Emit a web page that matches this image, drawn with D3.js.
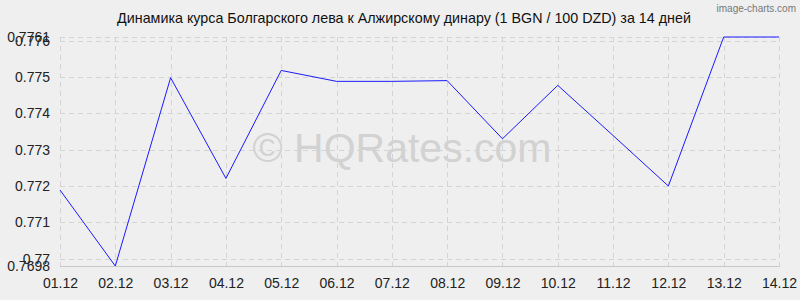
<!DOCTYPE html>
<html>
<head>
<meta charset="utf-8">
<script src="https://cdn.jsdelivr.net/npm/d3@7"></script>
<style>
  body { margin: 0; background: #efefef; }
  svg { display: block; font-family: "Liberation Sans", Arial, sans-serif; }
</style>
</head>
<body>
<div id="chart"></div>
<script>
const dates = ['01.12', '02.12', '03.12', '04.12', '05.12', '06.12', '07.12',
               '08.12', '09.12', '10.12', '11.12', '12.12', '13.12', '14.12'];
const rates = [0.77189, 0.7698, 0.77498, 0.77221, 0.77518, 0.77488, 0.77488,
               0.7749, 0.7733, 0.77477, 0.77339, 0.772, 0.7761, 0.7761];
const yTicks = [0.77, 0.771, 0.772, 0.773, 0.774, 0.775, 0.776];
const yMin = 0.7698;
const yMax = 0.7761;

const width = 800, height = 300;
const margin = {top: 37, right: 21, bottom: 34, left: 60};

const svg = d3.select('#chart').append('svg')
    .attr('width', width)
    .attr('height', height);

svg.append('rect')
    .attr('width', width)
    .attr('height', height)
    .attr('fill', '#efefef');

const x = d3.scalePoint()
    .domain(dates)
    .range([margin.left, width - margin.right]);

const y = d3.scaleLinear()
    .domain([yMin, yMax])
    .range([height - margin.bottom, margin.top]);

// watermark
svg.append('text')
    .attr('x', 402)
    .attr('y', 162)
    .attr('text-anchor', 'middle')
    .attr('font-size', 41)
    .attr('fill', '#d2d2d2')
    .text('© HQRates.com');

svg.append('text')
    .attr('x', 796)
    .attr('y', 12)
    .attr('text-anchor', 'end')
    .attr('font-size', 10)
    .attr('fill', '#777')
    .text('image-charts.com');

// grid
const grid = svg.append('g')
    .attr('stroke', '#d4d4d4')
    .attr('stroke-dasharray', '5,4');

grid.selectAll('.hgrid')
    .data(yTicks.concat([yMax]))
    .join('line')
    .attr('x1', margin.left)
    .attr('x2', width - margin.right)
    .attr('y1', d => Math.round(y(d)) + 0.5)
    .attr('y2', d => Math.round(y(d)) + 0.5);

grid.selectAll('.vgrid')
    .data(dates)
    .join('line')
    .attr('x1', d => Math.round(x(d)) + 0.5)
    .attr('x2', d => Math.round(x(d)) + 0.5)
    .attr('y1', margin.top)
    .attr('y2', height - margin.bottom + 4);

svg.append('line')
    .attr('x1', margin.left)
    .attr('x2', width - margin.right)
    .attr('y1', Math.round(y(yMin)) + 0.5)
    .attr('y2', Math.round(y(yMin)) + 0.5)
    .attr('stroke', '#c8c8c8');

// axes
const xAxis = svg.append('g')
    .attr('transform', `translate(0, ${height - margin.bottom})`)
    .call(d3.axisBottom(x).tickSize(0).tickPadding(12));
xAxis.select('.domain').remove();
xAxis.selectAll('text')
    .attr('font-size', 14)
    .attr('fill', '#222')
    .attr('font-family', '"Liberation Sans", Arial, sans-serif');

const yAxis = svg.append('g')
    .attr('transform', `translate(${margin.left}, 0)`)
    .call(d3.axisLeft(y)
        .tickValues(yTicks.concat([yMin, yMax]))
        .tickFormat(d => String(+d.toFixed(4)))
        .tickSize(0)
        .tickPadding(10));
yAxis.select('.domain').remove();
yAxis.selectAll('text')
    .attr('font-size', 14)
    .attr('fill', '#222')
    .attr('font-family', '"Liberation Sans", Arial, sans-serif');

// line
const line = d3.line()
    .x((d, i) => x(dates[i]))
    .y(d => y(d));

svg.append('path')
    .datum(rates)
    .attr('fill', 'none')
    .attr('stroke', '#1a1aff')
    .attr('stroke-width', 1)
    .attr('d', line);

// title
svg.append('text')
    .attr('x', 404)
    .attr('y', 23)
    .attr('text-anchor', 'middle')
    .attr('font-size', 14.3)
    .attr('fill', '#111')
    .text('Динамика курса Болгарского лева к Алжирскому динару (1 BGN / 100 DZD) за 14 дней');
</script>
</body>
</html>
